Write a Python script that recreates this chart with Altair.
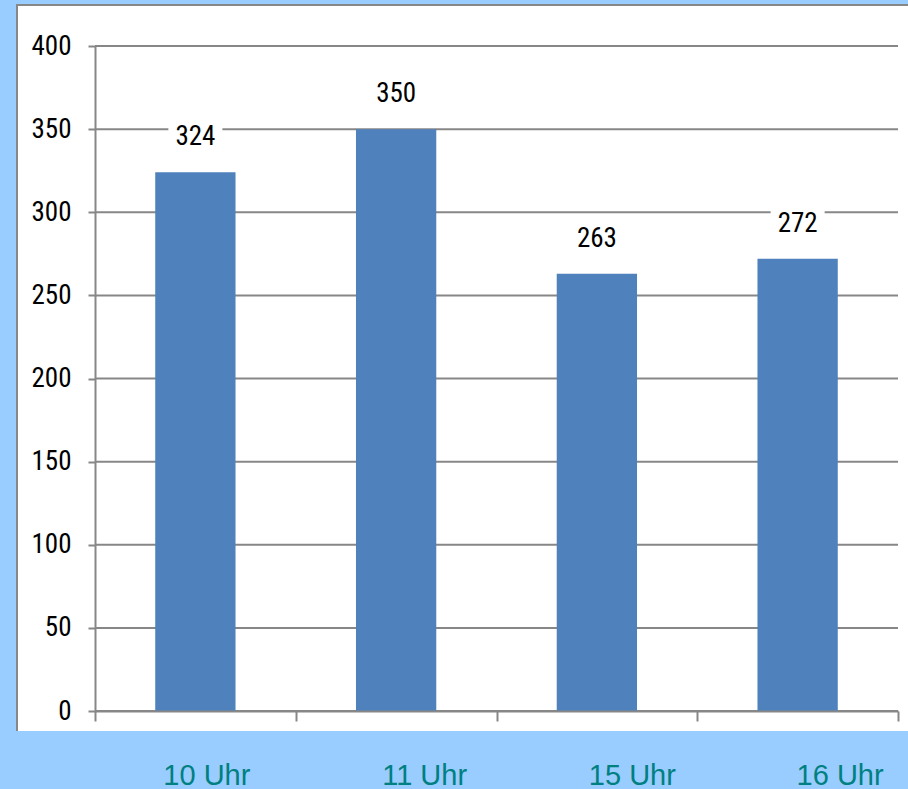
import altair as alt
import pandas as pd

# ---- data ----
categories = ["10 Uhr", "11 Uhr", "15 Uhr", "16 Uhr"]
values = [324, 350, 263, 272]
y_ticks = [0, 50, 100, 150, 200, 250, 300, 350, 400]

# ---- style ----
label_shift = [11, 28, 35, 42]   # horizontal shift of each category label
W, H = 803, 665
PAD = {"left": 95, "top": 46, "right": 10, "bottom": 78}
GRAY = "#878787"
BAR = "#4F81BD"
BG = "#99CCFF"
TEAL = "#008080"
FONT_NUM = "Roboto Condensed, Liberation Sans Narrow, DejaVu Sans Condensed, sans-serif"
FONT_CAT = "Liberation Sans, Arial, sans-serif"

df = pd.DataFrame({"Zeit": categories, "Wert": values})
grid_df = pd.DataFrame({"v": y_ticks})
one = pd.DataFrame({"k": [0]})

yscale = alt.Scale(domain=[0, 400], nice=False, zero=True)
xscale = alt.Scale(paddingInner=0, paddingOuter=0)

cond = [{"test": f"datum.value == '{c}'", "value": s}
        for c, s in zip(categories[:-1], label_shift[:-1])]

xaxis = alt.Axis(
    title=None, tickBand="extent", tickSize=10, tickWidth=2, tickColor=GRAY,
    domainColor=GRAY, domainWidth=2, labelFont=FONT_CAT, labelFontSize=29,
    labelColor=TEAL, labelPadding=40, labelAngle=0, grid=False, zindex=1,
    labelOffset={"condition": cond, "value": label_shift[-1]},
)
yaxis = alt.Axis(
    title=None, values=y_ticks, tickSize=7, tickWidth=2, tickColor=GRAY,
    domainColor=GRAY, domainWidth=2, labelFont=FONT_NUM, labelFontSize=27,
    labelColor="black", labelPadding=17, grid=False, zindex=1,
)

panel = alt.Chart(one).mark_rect(color="white").encode(
    x=alt.value(-79), x2=alt.value(W + 20), y=alt.value(-42), y2=alt.value(H + 20)
)
top_border = alt.Chart(one).mark_rule(color=GRAY, strokeWidth=2).encode(
    x=alt.value(-79), x2=alt.value(W + 20), y=alt.value(-41)
)
left_border = alt.Chart(one).mark_rule(color=GRAY, strokeWidth=2).encode(
    x=alt.value(-78), y=alt.value(-42), y2=alt.value(H + 20)
)
grid = alt.Chart(grid_df).mark_rule(color=GRAY, strokeWidth=2).encode(
    y=alt.Y("v:Q", scale=yscale, axis=yaxis)
)

xenc = alt.X("Zeit:N", sort=categories, scale=xscale, axis=xaxis)
bars = alt.Chart(df).mark_bar(color=BAR, width=alt.RelativeBandSize(0.4)).encode(
    x=xenc, y=alt.Y("Wert:Q", scale=yscale, axis=yaxis)
)
boxes = alt.Chart(df).mark_tick(
    color="white", size=54, thickness=28, yOffset=-35, opacity=1
).encode(x=alt.X("Zeit:N", sort=categories), y=alt.Y("Wert:Q"))
labels = alt.Chart(df).mark_text(
    dy=-35, fontSize=27, font=FONT_NUM, color="black", baseline="middle"
).encode(x=alt.X("Zeit:N", sort=categories), y=alt.Y("Wert:Q"), text="Wert:Q")

chart = alt.layer(panel, top_border, left_border, grid, bars, boxes, labels).properties(
    width=W, height=H, padding=PAD,
    autosize=alt.AutoSizeParams(type="none"), background=BG,
).configure_view(stroke=None)

chart.save("out.html", embed_options={"renderer": "svg", "actions": False})
